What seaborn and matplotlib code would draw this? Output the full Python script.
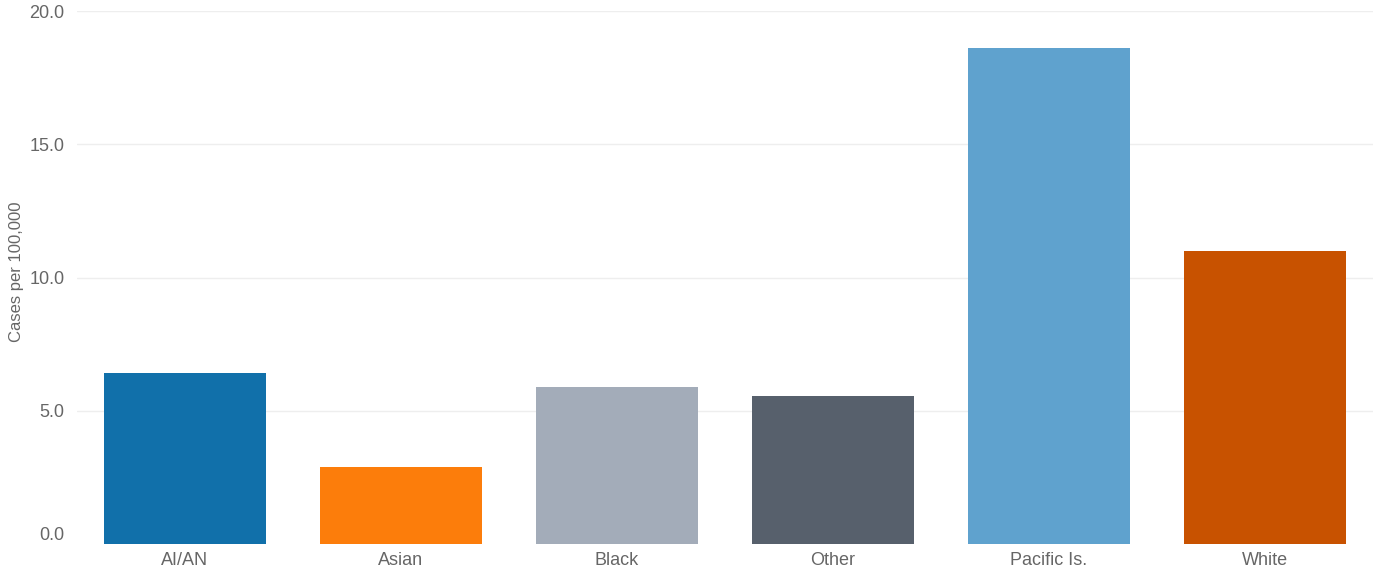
import pandas as pd
import seaborn as sns
import matplotlib.pyplot as plt
import matplotlib.transforms as mtransforms

groups = ['AI/AN', 'Asian', 'Black', 'Other', 'Pacific Is.', 'White']
rates = [6.4, 2.9, 5.9, 5.55, 18.6, 11.0]
colors = ['#1170aa', '#fc7d0b', '#a3acb9', '#57606c', '#5fa2ce', '#c85200']
yticks = [0, 5, 10, 15, 20]

data = pd.DataFrame({'Group': groups, 'Rate': rates})

sns.set_style("white")
plt.rcParams['font.family'] = ['Liberation Sans', 'DejaVu Sans']

fig = plt.figure(figsize=(13.77, 5.75), dpi=100)
ax = fig.add_axes([77 / 1377, 31 / 575, 1296 / 1377, 533 / 575])

sns.barplot(x='Group', y='Rate', data=data, hue='Group', palette=colors,
            width=0.75, legend=False, ax=ax, saturation=1, linewidth=0)

ax.set_ylim(0, 20)
ax.set_xlim(-0.5, len(groups) - 0.5)
ax.set_yticks(yticks)
ax.set_yticklabels([f"{v:.1f}" for v in yticks])
for v in yticks[1:]:
    ax.axhline(v, color='#eeeeee', lw=1, zorder=0)

ax.tick_params(axis='y', length=0, pad=9, labelsize=13, labelcolor='#666666')
ax.tick_params(axis='x', length=0, pad=6, labelsize=13, labelcolor='#666666')

# nudge the 0.0 label up like the original
lab0 = ax.get_yticklabels()[0]
lab0.set_transform(lab0.get_transform() + mtransforms.ScaledTranslation(0, 11 / 100, fig.dpi_scale_trans))

ax.set_xlabel("")
ax.set_ylabel("Cases per 100,000", fontsize=12, color='#666666')
ax.yaxis.set_label_coords(-53 / 1296, 0.51)
sns.despine(ax=ax, left=True, bottom=True)

plt.savefig("out.png", dpi=100)
